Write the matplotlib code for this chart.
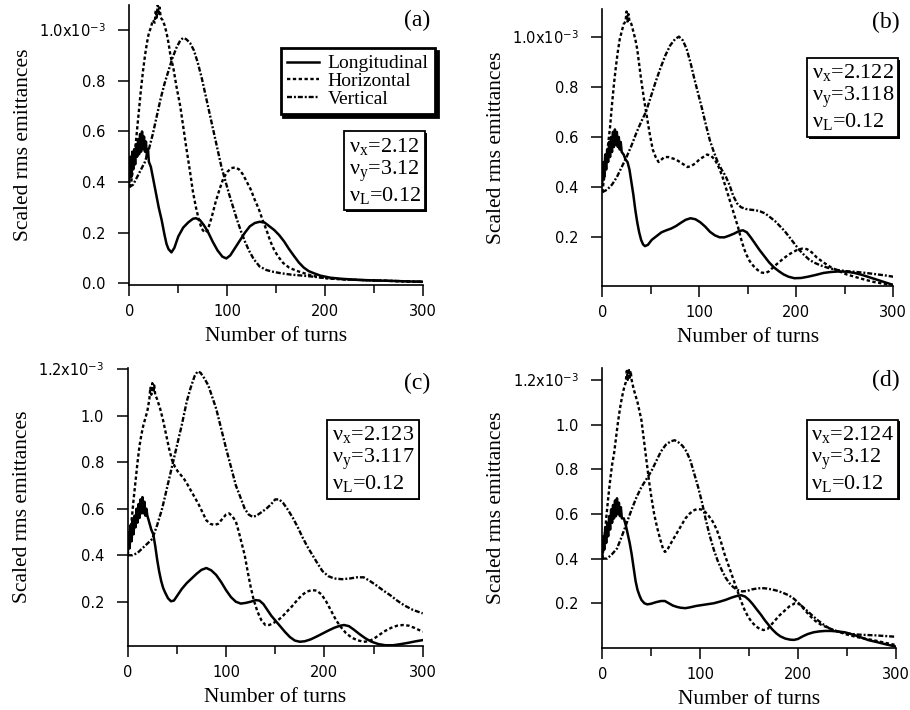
import matplotlib
matplotlib.use("Agg")
import matplotlib.pyplot as plt
import matplotlib.patheffects as pe
from matplotlib.ticker import FixedLocator, FixedFormatter

plt.rcParams['mathtext.fontset'] = 'custom'
plt.rcParams['mathtext.rm'] = 'Liberation Serif'
plt.rcParams['mathtext.it'] = 'Liberation Serif:italic'
plt.rcParams['mathtext.sf'] = 'DejaVu Sans'
plt.rcParams['lines.scale_dashes'] = False

SERIF = 'Liberation Serif'
SANS = 'DejaVu Sans'

# ---------------------------------------------------------------- data
# emittances in units of 1e-3, versus number of turns

# (a) nu_x=2.12, nu_y=3.12
A_LONG_T = [0, 1, 2, 3, 4, 5, 6, 7, 8, 9, 10, 11, 12, 13, 14, 15, 16, 17, 18, 19, 20,
            22, 24, 26, 28, 30,
            33, 36, 38, 40, 43, 46, 50, 55, 60, 65, 68, 72, 76, 80,
            85, 90, 95, 99, 103, 108,
            113, 118, 123, 128, 133, 138, 143, 148, 153, 158,
            163, 168, 173, 178, 183, 188, 195, 205, 215, 230,
            250, 270, 285, 300]
A_LONG = [0.40, 0.50, 0.42, 0.52, 0.45, 0.53, 0.47, 0.55, 0.50, 0.57, 0.51, 0.59, 0.52, 0.60, 0.53, 0.58, 0.52, 0.56, 0.50, 0.53, 0.48,
          0.46, 0.42, 0.38, 0.34, 0.30,
          0.25, 0.19, 0.155, 0.135, 0.122, 0.14, 0.185, 0.22, 0.24, 0.255, 0.257, 0.25, 0.23, 0.205,
          0.165, 0.13, 0.105, 0.098, 0.11, 0.14,
          0.17, 0.2, 0.225, 0.238, 0.243, 0.24, 0.225, 0.21, 0.19, 0.165,
          0.135, 0.108, 0.082, 0.062, 0.048, 0.04, 0.03, 0.022, 0.018, 0.014,
          0.011, 0.009, 0.007, 0.006]

A_HOR_T = [0, 2, 4, 6, 8, 10, 12, 14, 16, 18, 20, 22, 24, 26,
           27, 28, 29, 30, 31, 32,
           34, 36, 38, 40, 42,
           45, 48, 52, 55, 58, 62, 65, 68, 71, 74, 77, 80,
           84, 88, 92, 96, 100, 104, 108, 112, 116, 120,
           124, 128, 132, 136, 140, 144, 148, 152, 157, 163,
           170, 178, 186, 195, 205, 220, 240, 260, 280, 300]
A_HOR = [0.38, 0.40, 0.46, 0.53, 0.61, 0.69, 0.77, 0.84, 0.90, 0.95, 0.99, 1.01, 1.04, 1.03,
         1.08, 1.05, 1.10, 1.06, 1.09, 1.05,
         1.04, 1.02, 0.99, 0.95, 0.90,
         0.85, 0.78, 0.70, 0.62, 0.54, 0.44, 0.36, 0.30, 0.25, 0.215, 0.20, 0.21,
         0.26, 0.32, 0.37, 0.415, 0.44, 0.455, 0.458, 0.45, 0.43, 0.40,
         0.37, 0.33, 0.295, 0.25, 0.21, 0.165, 0.13, 0.105, 0.08, 0.062,
         0.05, 0.04, 0.03, 0.023, 0.018, 0.015, 0.012, 0.01, 0.007, 0.005]

A_VER_T = [0, 4, 8, 12, 16, 20, 24, 28, 32, 36, 40, 44, 48, 52,
           55, 58, 62, 66, 70, 74, 78, 82, 86, 90,
           94, 98, 102, 106, 110, 114, 118, 122, 127, 133,
           140, 147, 154, 165, 177, 190, 201, 220, 240, 260,
           280, 300]
A_VER = [0.38, 0.39, 0.42, 0.45, 0.48, 0.53, 0.59, 0.66, 0.73, 0.79, 0.84, 0.89, 0.93, 0.96,
         0.97, 0.965, 0.95, 0.92, 0.87, 0.81, 0.74, 0.67, 0.60, 0.53,
         0.46, 0.405, 0.35, 0.30, 0.25, 0.205, 0.165, 0.13, 0.095, 0.066,
         0.052, 0.045, 0.04, 0.034, 0.03, 0.025, 0.02, 0.015, 0.012, 0.01,
         0.008, 0.006]

# (b) nu_x=2.122, nu_y=3.118
B_LONG_T = [0, 1, 2, 3, 4, 5, 6, 7, 8, 9, 10, 11, 12, 13, 14, 15, 16, 17, 18, 19, 20,
            22, 24, 26, 28, 30, 32, 34, 36, 38, 40, 42, 44,
            47, 51, 56, 61, 66, 71, 76, 81, 86, 91,
            96, 101, 106, 111, 116, 121, 126, 131, 136, 141,
            145, 149, 153, 157, 162, 167, 172, 177, 182, 187,
            192, 198, 205, 212, 220, 228, 236, 244, 252, 260,
            268, 276, 284, 292, 300]
B_LONG = [0.42, 0.50, 0.44, 0.53, 0.47, 0.55, 0.50, 0.58, 0.52, 0.60, 0.54, 0.62, 0.56, 0.63, 0.57, 0.62, 0.56, 0.60, 0.55, 0.58, 0.54,
          0.53, 0.51, 0.50, 0.47, 0.42, 0.37, 0.31, 0.26, 0.22, 0.19, 0.172, 0.165,
          0.17, 0.19, 0.205, 0.22, 0.228, 0.235, 0.245, 0.258, 0.27, 0.276,
          0.272, 0.26, 0.243, 0.222, 0.208, 0.2, 0.2, 0.207, 0.215, 0.225,
          0.228, 0.22, 0.2, 0.178, 0.15, 0.125, 0.1, 0.08, 0.065, 0.052,
          0.043, 0.037, 0.038, 0.043, 0.05, 0.058, 0.062, 0.064, 0.063, 0.058,
          0.05, 0.04, 0.03, 0.02, 0.01]

B_HOR_T = [0, 2, 4, 6, 8, 10, 12, 14, 16, 18, 20, 22, 24, 25, 26, 27, 28, 30, 32, 34,
           36, 38, 40, 43, 46, 49, 52, 55, 58, 61,
           64, 68, 72, 76, 80, 84, 88, 92, 96, 100,
           104, 108, 112, 116, 120, 124, 128, 132, 136, 140,
           144, 148, 152, 156, 160, 164, 168, 172, 176, 181,
           186, 191, 196, 201, 206, 211, 216, 221, 228, 236,
           244, 252, 260, 270, 280, 290, 300]
B_HOR = [0.38, 0.44, 0.50, 0.57, 0.64, 0.73, 0.81, 0.88, 0.94, 0.99, 1.02, 1.05, 1.06, 1.10, 1.06, 1.09, 1.06, 1.05, 1.02, 0.99,
         0.95, 0.89, 0.83, 0.75, 0.68, 0.61, 0.55, 0.52, 0.50, 0.51,
         0.52, 0.52, 0.515, 0.51, 0.50, 0.49, 0.48, 0.485, 0.495, 0.51,
         0.52, 0.53, 0.525, 0.51, 0.48, 0.44, 0.39, 0.34, 0.29, 0.24,
         0.18, 0.135, 0.105, 0.085, 0.07, 0.06, 0.057, 0.065, 0.08, 0.097,
         0.113, 0.128, 0.14, 0.15, 0.155, 0.153, 0.14, 0.12, 0.1, 0.08,
         0.065, 0.052, 0.043, 0.032, 0.022, 0.015, 0.01]

B_VER_T = [0, 5, 10, 15, 20, 25, 30, 35, 40, 45,
           50, 55, 60, 65, 70, 75, 79, 83, 87, 91,
           95, 99, 103, 107, 111, 115, 119, 123, 127, 131,
           135, 139, 143, 148, 153, 158, 163, 168, 173, 178,
           183, 188, 193, 198, 203, 208, 213, 218, 225, 233,
           242, 252, 262, 272, 282, 292, 300]
B_VER = [0.38, 0.39, 0.41, 0.44, 0.48, 0.52, 0.565, 0.615, 0.66, 0.70,
         0.76, 0.82, 0.875, 0.925, 0.965, 0.99, 1.0, 0.985, 0.95, 0.895,
         0.83, 0.77, 0.71, 0.645, 0.585, 0.54, 0.5, 0.47, 0.445, 0.41,
         0.365, 0.335, 0.32, 0.313, 0.31, 0.308, 0.303, 0.295, 0.28, 0.265,
         0.245, 0.225, 0.2, 0.175, 0.15, 0.13, 0.112, 0.1, 0.088, 0.078,
         0.07, 0.065, 0.062, 0.058, 0.053, 0.048, 0.043]

# (c) nu_x=2.123, nu_y=3.117
C_LONG_T = [0, 1, 2, 3, 4, 5, 6, 7, 8, 9, 10, 11, 12, 13, 14, 15, 16, 17, 18, 19, 20,
            22, 24, 26, 28, 30, 32, 34, 36, 38, 41,
            44, 47, 51, 55, 60, 65, 70, 75, 80, 85,
            90, 95, 100, 105, 110, 115, 120, 125, 130, 134,
            138, 142, 146, 150, 155, 160, 165, 170, 175, 180,
            186, 192, 198, 204, 210, 216, 220, 225, 230, 236,
            242, 248, 255, 262, 270, 278, 286, 293, 300]
C_LONG = [0.40, 0.50, 0.43, 0.53, 0.46, 0.55, 0.49, 0.57, 0.52, 0.60, 0.54, 0.62, 0.56, 0.64, 0.58, 0.65, 0.58, 0.63, 0.57, 0.60, 0.57,
          0.54, 0.51, 0.49, 0.44, 0.38, 0.33, 0.29, 0.26, 0.24, 0.215,
          0.202, 0.205, 0.23, 0.255, 0.28, 0.30, 0.32, 0.337, 0.345, 0.335,
          0.315, 0.285, 0.25, 0.22, 0.2, 0.192, 0.195, 0.2, 0.207, 0.205,
          0.19, 0.165, 0.14, 0.12, 0.095, 0.07, 0.048, 0.033, 0.028, 0.03,
          0.038, 0.05, 0.063, 0.076, 0.088, 0.097, 0.1, 0.095, 0.08, 0.06,
          0.042, 0.028, 0.018, 0.013, 0.013, 0.018, 0.024, 0.03, 0.035]

C_HOR_T = [0, 2, 4, 6, 8, 10, 12, 14, 16, 18,
           20, 22, 23, 24, 25, 26, 27, 28, 30, 33,
           36, 39, 42, 45, 48, 51, 54, 57, 60, 64,
           68, 72, 76, 80, 84, 88, 92, 96, 100, 103,
           106, 110, 113, 116, 119, 122, 125, 128, 132, 136,
           140, 144, 148, 152, 157, 162, 167, 172, 177, 182,
           187, 192, 197, 202, 207, 212, 217, 222, 228, 234,
           240, 245, 250, 256, 262, 268, 274, 280, 286, 292,
           300]
C_HOR = [0.40, 0.46, 0.55, 0.64, 0.72, 0.80, 0.87, 0.92, 0.96, 0.99,
         1.02, 1.07, 1.12, 1.09, 1.14, 1.10, 1.13, 1.09, 1.07, 1.03,
         0.98, 0.92, 0.86, 0.81, 0.78, 0.76, 0.745, 0.73, 0.71, 0.68,
         0.65, 0.62, 0.585, 0.55, 0.535, 0.53, 0.535, 0.555, 0.575, 0.58,
         0.57, 0.545, 0.5, 0.45, 0.40, 0.33, 0.265, 0.21, 0.157, 0.12,
         0.1, 0.1, 0.108, 0.118, 0.135, 0.158, 0.18, 0.205, 0.228, 0.243,
         0.25, 0.248, 0.232, 0.2, 0.16, 0.12, 0.09, 0.065, 0.045, 0.034,
         0.028, 0.03, 0.04, 0.058, 0.075, 0.088, 0.097, 0.1, 0.097, 0.087,
         0.071]

C_VER_T = [0, 5, 10, 15, 20, 25, 30, 35, 40, 45,
           50, 55, 60, 64, 68, 71, 74, 78, 82, 86,
           90, 95, 100, 105, 110, 115, 119, 123, 127, 131,
           136, 141, 146, 150, 154, 158, 163, 168, 173, 178,
           183, 188, 193, 198, 204, 210, 218, 226, 233, 240,
           246, 253, 260, 267, 274, 281, 290, 300]
C_VER = [0.40, 0.40, 0.41, 0.43, 0.45, 0.47, 0.53, 0.60, 0.69, 0.78,
         0.87, 0.96, 1.06, 1.12, 1.17, 1.19, 1.185, 1.16, 1.13, 1.08,
         1.03, 0.945, 0.86, 0.78, 0.70, 0.645, 0.60, 0.575, 0.565, 0.57,
         0.585, 0.60, 0.62, 0.64, 0.64, 0.625, 0.595, 0.56, 0.52, 0.475,
         0.435, 0.40, 0.365, 0.332, 0.31, 0.30, 0.297, 0.30, 0.305, 0.305,
         0.29, 0.27, 0.248, 0.228, 0.205, 0.185, 0.165, 0.15]

# (d) nu_x=2.124, nu_y=3.12
D_LONG_T = [0, 1, 2, 3, 4, 5, 6, 7, 8, 9, 10, 11, 12, 13, 14, 15, 16, 17, 18, 19, 20,
            22, 24, 26, 28, 30, 32, 34, 36, 38, 40,
            43, 46, 50, 55, 60, 64, 68, 72, 76, 80,
            85, 90, 96, 102, 108, 114, 120, 126, 132, 137,
            142, 146, 150, 154, 158, 162, 166, 170, 174, 178,
            182, 187, 192, 196, 200, 205, 210, 216, 222, 228,
            234, 240, 248, 256, 264, 272, 280, 290, 300]
D_LONG = [0.40, 0.50, 0.44, 0.54, 0.47, 0.56, 0.50, 0.59, 0.53, 0.62, 0.56, 0.64, 0.58, 0.66, 0.59, 0.67, 0.60, 0.65, 0.59, 0.63, 0.58,
          0.58, 0.55, 0.51, 0.47, 0.42, 0.36, 0.30, 0.26, 0.235, 0.215,
          0.2, 0.195, 0.198, 0.205, 0.21, 0.21, 0.2, 0.19, 0.184, 0.18,
          0.178, 0.182, 0.188, 0.192, 0.196, 0.2, 0.207, 0.215, 0.225, 0.232,
          0.236, 0.23, 0.215, 0.195, 0.172, 0.15, 0.125, 0.103, 0.082, 0.065,
          0.052, 0.042, 0.037, 0.036, 0.04, 0.052, 0.062, 0.07, 0.074, 0.076,
          0.076, 0.074, 0.07, 0.06, 0.048, 0.035, 0.027, 0.016, 0.006]

D_HOR_T = [0, 2, 4, 6, 8, 10, 12, 14, 16, 18,
           20, 22, 24, 25, 26, 27, 28, 29, 30, 32,
           34, 36, 38, 40, 42, 44, 46, 48, 50, 53,
           56, 59, 62, 64, 66, 69, 73, 77, 81, 85,
           89, 93, 97, 101, 105, 109, 113, 117, 121, 125,
           129, 133, 137, 141, 145, 149, 153, 157, 161, 165,
           169, 173, 177, 181, 186, 191, 197, 202, 207, 212,
           218, 224, 232, 241, 250, 259, 268, 277, 288, 300]
D_HOR = [0.40, 0.48, 0.58, 0.67, 0.75, 0.82, 0.87, 0.94, 1.01, 1.07,
         1.12, 1.16, 1.19, 1.24, 1.20, 1.25, 1.21, 1.24, 1.20, 1.16,
         1.13, 1.10, 1.06, 1.02, 0.95, 0.88, 0.81, 0.74, 0.68, 0.60,
         0.54, 0.49, 0.445, 0.43, 0.435, 0.46, 0.49, 0.52, 0.55, 0.58,
         0.60, 0.615, 0.622, 0.62, 0.61, 0.59, 0.565, 0.53, 0.48, 0.42,
         0.37, 0.32, 0.27, 0.22, 0.175, 0.14, 0.115, 0.097, 0.085, 0.08,
         0.085, 0.105, 0.125, 0.145, 0.165, 0.185, 0.2, 0.195, 0.17, 0.145,
         0.12, 0.103, 0.088, 0.073, 0.06, 0.05, 0.042, 0.035, 0.024, 0.013]

D_VER_T = [0, 5, 10, 15, 20, 25, 30, 35, 40, 45,
           50, 55, 60, 65, 70, 74, 78, 82, 86, 90,
           94, 98, 102, 106, 110, 114, 118, 122, 126, 130,
           134, 138, 143, 148, 153, 158, 163, 168, 173, 178,
           184, 190, 196, 202, 208, 214, 220, 226, 232, 238,
           244, 252, 260, 270, 280, 290, 300]
D_VER = [0.40, 0.40, 0.42, 0.445, 0.50, 0.56, 0.62, 0.675, 0.72, 0.755,
         0.79, 0.835, 0.88, 0.91, 0.925, 0.93, 0.92, 0.905, 0.88, 0.84,
         0.78, 0.72, 0.65, 0.57, 0.5, 0.44, 0.39, 0.35, 0.315, 0.29,
         0.272, 0.26, 0.253, 0.255, 0.262, 0.266, 0.268, 0.266, 0.262, 0.257,
         0.248, 0.237, 0.22, 0.195, 0.172, 0.148, 0.125, 0.105, 0.088, 0.077,
         0.07, 0.064, 0.06, 0.058, 0.056, 0.053, 0.05]

SERIES_NAMES = ['Longitudinal', 'Horizontal', 'Vertical']
TUNES = {
    'a': ('2.12', '3.12', '0.12'),
    'b': ('2.122', '3.118', '0.12'),
    'c': ('2.123', '3.117', '0.12'),
    'd': ('2.124', '3.12', '0.12'),
}
YTICKS_A = [0.0, 0.2, 0.4, 0.6, 0.8, 1.0]
YLABELS_A = ['0.0', '0.2', '0.4', '0.6', '0.8', '1.0x10$^{\\mathsf{-3}}$']
YTICKS_B = [0.2, 0.4, 0.6, 0.8, 1.0]
YLABELS_B = ['0.2', '0.4', '0.6', '0.8', '1.0x10$^{\\mathsf{-3}}$']
YTICKS_CD = [0.2, 0.4, 0.6, 0.8, 1.0, 1.2]
YLABELS_CD = ['0.2', '0.4', '0.6', '0.8', '1.0', '1.2x10$^{\\mathsf{-3}}$']
XTICKS = [0, 100, 200, 300]
XMINOR = [50, 150, 250]

# ---------------------------------------------------------------- layout
W, H = 910, 710


def fx(px):
    return px / W


def fy(py):
    return 1 - py / H


# [left, right, top, bottom] in pixels, ylim, ticks, tune box (right, top), panel tag (right, top)
PANELS = [
    dict(key='a', box=(129.3, 423.3, 5, 285), ylim=(-0.007, 1.10), yt=YTICKS_A, yl=YLABELS_A,
         data=((A_LONG_T, A_LONG), (A_HOR_T, A_HOR), (A_VER_T, A_VER)),
         tune=(425, 131.7), tag=(430, 10), legend=True),
    dict(key='b', box=(602.3, 893.3, 9, 286), ylim=(0.006, 1.11), yt=YTICKS_B, yl=YLABELS_B,
         data=((B_LONG_T, B_LONG), (B_HOR_T, B_HOR), (B_VER_T, B_VER)),
         tune=(898, 58.3), tag=(900, 11.7), legend=False),
    dict(key='c', box=(127.7, 422.7, 368, 645.7), ylim=(0.011, 1.205), yt=YTICKS_CD, yl=YLABELS_CD,
         data=((C_LONG_T, C_LONG), (C_HOR_T, C_HOR), (C_VER_T, C_VER)),
         tune=(418.3, 420), tag=(430, 373), legend=False),
    dict(key='d', box=(602.3, 895.7, 368.3, 647.7), ylim=(0.001, 1.252), yt=YTICKS_CD, yl=YLABELS_CD,
         data=((D_LONG_T, D_LONG), (D_HOR_T, D_HOR), (D_VER_T, D_VER)),
         tune=(898, 420), tag=(900, 370), legend=False),
]

STYLES = [
    dict(linestyle='-', linewidth=1.8),
    dict(linestyle=(0, (2.4, 1.8)), linewidth=1.7),
    dict(linestyle=(0, (3.6, 1.4, 1.4, 1.4)), linewidth=1.7),
]

fig = plt.figure(figsize=(W / 100, H / 100), dpi=100)

for p in PANELS:
    l, r, t, b = p['box']
    ax = fig.add_axes([fx(l), fy(b), (r - l) / W, (b - t) / H])
    handles = []
    for (tt, vv), st, name in zip(p['data'], STYLES, SERIES_NAMES):
        h, = ax.plot(tt, vv, color='black', label=name, solid_joinstyle='round',
                     dash_capstyle='butt', **st)
        handles.append(h)
    ax.set_xlim(0, 300)
    ax.set_ylim(*p['ylim'])
    for s in ('top', 'right'):
        ax.spines[s].set_visible(False)
    for s in ('left', 'bottom'):
        ax.spines[s].set_linewidth(1.2)
    ax.xaxis.set_major_locator(FixedLocator(XTICKS))
    ax.xaxis.set_minor_locator(FixedLocator(XMINOR))
    ax.yaxis.set_major_locator(FixedLocator(p['yt']))
    ax.yaxis.set_major_formatter(FixedFormatter(p['yl']))
    ax.tick_params(axis='both', which='major', direction='out', length=8, width=1.1,
                   labelsize=10.5, pad=6)
    ax.tick_params(axis='y', which='major', pad=9)
    ax.tick_params(axis='x', which='minor', direction='out', length=6, width=1.1)
    for lab in ax.get_xticklabels() + ax.get_yticklabels():
        lab.set_family(SANS)

    ax.set_xlabel('Number of turns', family=SERIF, fontsize=15.5)
    ax.set_ylabel('Scaled rms emittances', family=SERIF, fontsize=15.5)
    axw, axh = r - l, b - t
    ax.xaxis.set_label_coords(0.5, -(42.0 / axh))
    ax.yaxis.set_label_coords(-(96.0 / axw), 0.5)

    # panel tag
    fig.text(fx(p['tag'][0]), fy(p['tag'][1]), '(%s)' % p['key'], family=SERIF,
             fontsize=17, ha='right', va='top')

    # tune box
    nx, ny, nl = TUNES[p['key']]
    txt = ('ν$_\\mathrm{x}$=%s\nν$_\\mathrm{y}$=%s\nν$_\\mathrm{L}$=%s' % (nx, ny, nl))
    pad_px = 4
    tb = fig.text(fx(p['tune'][0] - pad_px), fy(p['tune'][1] + pad_px), txt, family=SERIF,
                  fontsize=16, ha='right', va='top', multialignment='left', linespacing=1.08,
                  bbox=dict(boxstyle='square,pad=0.2', fc='white', ec='black', lw=1.3))
    tb.get_bbox_patch().set_path_effects([
        pe.SimplePatchShadow(offset=(1.2, -1.2), shadow_rgbFace='black', alpha=1.0),
        pe.Normal()])

    if p['legend']:
        leg = ax.legend(handles=handles, loc='upper right',
                        bbox_to_anchor=(fx(435), fy(48)), bbox_transform=fig.transFigure,
                        borderaxespad=0, frameon=True, fancybox=False, edgecolor='black',
                        framealpha=1, prop={'family': SERIF, 'size': 14},
                        handlelength=1.6, handletextpad=0.45, labelspacing=0.0,
                        borderpad=0.35,
                        shadow={'facecolor': 'black', 'edgecolor': 'black', 'alpha': 1.0})
        leg.get_frame().set_linewidth(2.0)

fig.savefig('out.png', dpi=100)
